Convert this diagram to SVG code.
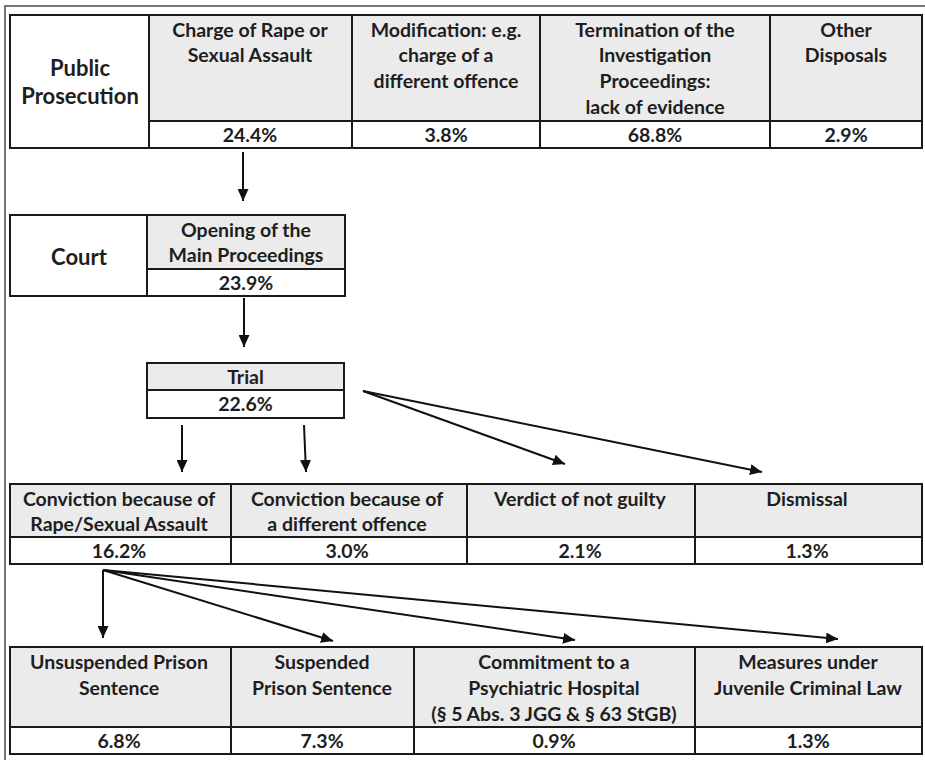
<svg xmlns="http://www.w3.org/2000/svg" width="925" height="760" viewBox="0 0 925 760">
<defs>
<marker id="ah" markerUnits="userSpaceOnUse" markerWidth="13" markerHeight="11" refX="12" refY="5.5" orient="auto">
<path d="M0,0 L12,5.5 L0,11 z" fill="#111"/>
</marker>
<style>
.hd{fill:#ebebeb;stroke:#1a1a1a;stroke-width:2}
.vl{fill:#ffffff;stroke:#1a1a1a;stroke-width:2}
text{font-family:Lato,"Open Sans","Liberation Sans",sans-serif;font-weight:bold;fill:#1e1e1e;text-anchor:middle;font-size:19.5px}
.big{font-size:22px}
.cn{stroke:#111;stroke-width:2;fill:none;marker-end:url(#ah)}
</style>
</defs>
<rect x="5" y="6" width="925" height="760" fill="#fff" stroke="#666" stroke-width="1.8"/>

<g id="public-prosecution">
<rect class="vl" x="10" y="15" width="139" height="133"/>
<text class="big" x="80" y="76">Public</text>
<text class="big" x="80" y="104">Prosecution</text>
</g>
<g id="charge-rape">
<rect class="hd" x="149" y="15" width="203" height="106"/>
<rect class="vl" x="149" y="121" width="203" height="27"/>
<text x="250" y="37">Charge of Rape or</text>
<text x="250" y="62">Sexual Assault</text>
<text x="250" y="142">24.4%</text>
</g>
<g id="modification">
<rect class="hd" x="352" y="15" width="188" height="106"/>
<rect class="vl" x="352" y="121" width="188" height="27"/>
<text x="446" y="37">Modification: e.g.</text>
<text x="446" y="62">charge of a</text>
<text x="446" y="88">different offence</text>
<text x="446" y="142">3.8%</text>
</g>
<g id="termination">
<rect class="hd" x="540" y="15" width="230" height="106"/>
<rect class="vl" x="540" y="121" width="230" height="27"/>
<text x="655" y="37">Termination of the</text>
<text x="655" y="62">Investigation</text>
<text x="655" y="88">Proceedings:</text>
<text x="655" y="114">lack of evidence</text>
<text x="655" y="142">68.8%</text>
</g>
<g id="other-disposals">
<rect class="hd" x="770" y="15" width="152" height="106"/>
<rect class="vl" x="770" y="121" width="152" height="27"/>
<text x="846" y="37">Other</text>
<text x="846" y="62">Disposals</text>
<text x="846" y="142">2.9%</text>
</g>

<g id="court">
<rect class="vl" x="10" y="215" width="137" height="81"/>
<text class="big" x="79" y="265">Court</text>
</g>
<g id="opening">
<rect class="hd" x="147" y="215" width="198" height="54"/>
<rect class="vl" x="147" y="269" width="198" height="27"/>
<text x="246" y="237">Opening of the</text>
<text x="246" y="262">Main Proceedings</text>
<text x="246" y="290">23.9%</text>
</g>

<g id="trial">
<rect class="hd" x="147" y="363" width="197" height="27"/>
<rect class="vl" x="147" y="390" width="197" height="28"/>
<text x="245.5" y="384">Trial</text>
<text x="245.5" y="411">22.6%</text>
</g>

<g id="conviction-rape">
<rect class="hd" x="10" y="484" width="221" height="53"/>
<rect class="vl" x="10" y="537" width="221" height="27"/>
<text x="119" y="506">Conviction because of</text>
<text x="119" y="531">Rape/Sexual Assault</text>
<text x="119" y="558">16.2%</text>
</g>
<g id="conviction-other">
<rect class="hd" x="231" y="484" width="236" height="53"/>
<rect class="vl" x="231" y="537" width="236" height="27"/>
<text x="347" y="506">Conviction because of</text>
<text x="347" y="531">a different offence</text>
<text x="347" y="558">3.0%</text>
</g>
<g id="not-guilty">
<rect class="hd" x="467" y="484" width="228" height="53"/>
<rect class="vl" x="467" y="537" width="228" height="27"/>
<text x="580" y="506">Verdict of not guilty</text>
<text x="580" y="558">2.1%</text>
</g>
<g id="dismissal">
<rect class="hd" x="695" y="484" width="227" height="53"/>
<rect class="vl" x="695" y="537" width="227" height="27"/>
<text x="807" y="506">Dismissal</text>
<text x="807" y="558">1.3%</text>
</g>

<g id="unsuspended">
<rect class="hd" x="10" y="647" width="221" height="80"/>
<rect class="vl" x="10" y="727" width="221" height="27"/>
<text x="119" y="669">Unsuspended Prison</text>
<text x="119" y="695">Sentence</text>
<text x="119" y="748">6.8%</text>
</g>
<g id="suspended">
<rect class="hd" x="231" y="647" width="183" height="80"/>
<rect class="vl" x="231" y="727" width="183" height="27"/>
<text x="322" y="669">Suspended</text>
<text x="322" y="695">Prison Sentence</text>
<text x="322" y="748">7.3%</text>
</g>
<g id="psychiatric">
<rect class="hd" x="414" y="647" width="281" height="80"/>
<rect class="vl" x="414" y="727" width="281" height="27"/>
<text x="554" y="669">Commitment to a</text>
<text x="554" y="695">Psychiatric Hospital</text>
<text x="554" y="721">(§ 5 Abs. 3 JGG &amp; § 63 StGB)</text>
<text x="554" y="748">0.9%</text>
</g>
<g id="juvenile">
<rect class="hd" x="695" y="647" width="227" height="80"/>
<rect class="vl" x="695" y="727" width="227" height="27"/>
<text x="808" y="669">Measures under</text>
<text x="808" y="695">Juvenile Criminal Law</text>
<text x="808" y="748">1.3%</text>
</g>

<g id="connectors">
<line class="cn" x1="243" y1="152" x2="243" y2="201"/>
<line class="cn" x1="244" y1="298" x2="244" y2="347"/>
<line class="cn" x1="363" y1="391" x2="565" y2="464"/>
<line class="cn" x1="363" y1="391" x2="762" y2="472"/>
<line class="cn" x1="182" y1="425" x2="182" y2="472"/>
<line class="cn" x1="304" y1="425" x2="306" y2="472"/>
<line class="cn" x1="103" y1="570" x2="103" y2="638"/>
<line class="cn" x1="103" y1="570" x2="333" y2="641"/>
<line class="cn" x1="103" y1="570" x2="575" y2="640"/>
<line class="cn" x1="103" y1="570" x2="838" y2="639"/>
</g>
</svg>
